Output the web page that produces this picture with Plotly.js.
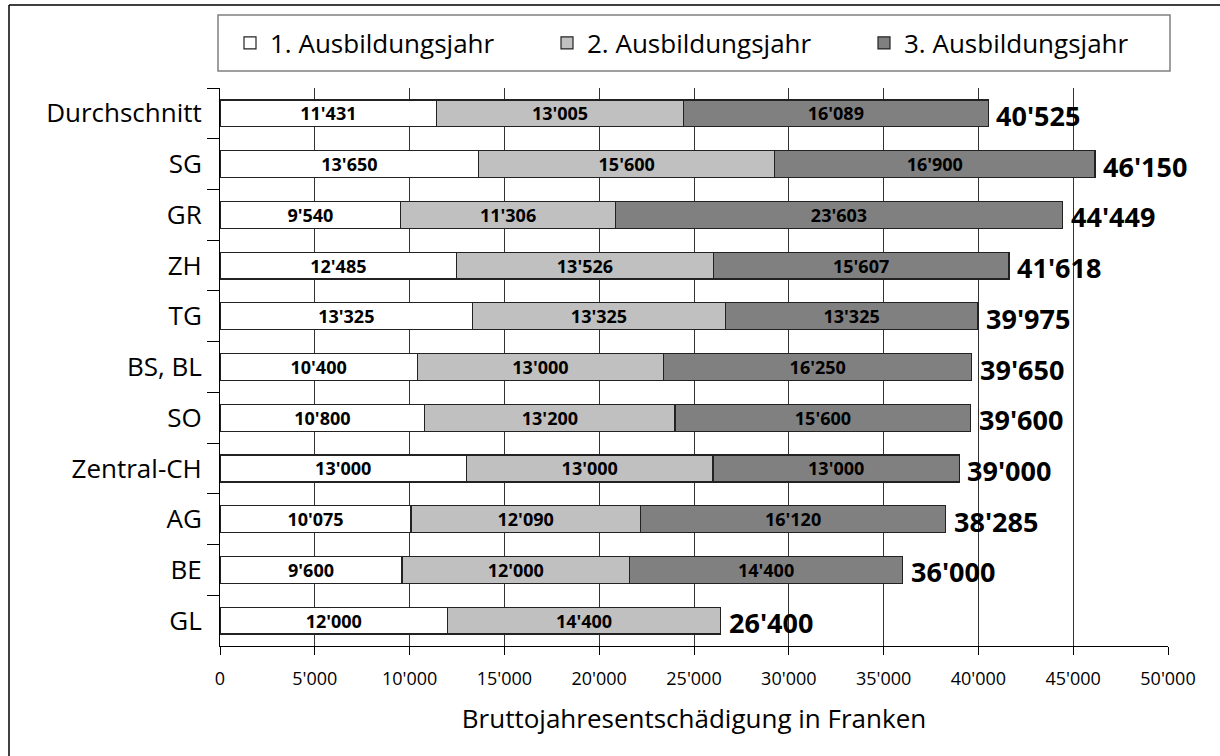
<!DOCTYPE html>
<html>
<head>
<meta charset="utf-8">
<script src="https://cdn.plot.ly/plotly-3.0.1.min.js"></script>
<style>
  html, body { margin: 0; padding: 0; background: #fff; }
  #chart { width: 1220px; height: 756px; }
</style>
</head>
<body>
<div id="chart"></div>
<script>
// ---- data ----
const categories = ['Durchschnitt', 'SG', 'GR', 'ZH', 'TG', 'BS, BL', 'SO', 'Zentral-CH', 'AG', 'BE', 'GL'];
const seriesNames = ['1. Ausbildungsjahr', '2. Ausbildungsjahr', '3. Ausbildungsjahr'];
const year1 = [11431, 13650, 9540, 12485, 13325, 10400, 10800, 13000, 10075, 9600, 12000];
const year2 = [13005, 15600, 11306, 13526, 13325, 13000, 13200, 13000, 12090, 12000, 14400];
const year3 = [16089, 16900, 23603, 15607, 13325, 16250, 15600, 13000, 16120, 14400, null];
const xTickValues = [0, 5000, 10000, 15000, 20000, 25000, 30000, 35000, 40000, 45000, 50000];

// ---- derived ----
const totals = categories.map((c, i) => (year1[i] || 0) + (year2[i] || 0) + (year3[i] || 0));
const fmt = n => String(n).replace(/\B(?=(\d{3})+(?!\d))/g, "'");

const colors = ['#ffffff', '#c0c0c0', '#808080'];
const FONT = 'Open Sans, Noto Sans, sans-serif';

const seriesValues = [year1, year2, year3];
const traces = seriesValues.map((vals, k) => ({
  type: 'bar',
  orientation: 'h',
  name: seriesNames[k],
  x: vals,
  y: categories,
  marker: { color: colors[k], line: { color: '#222222', width: 1.2 } },
  texttemplate: '%{x:,}',
  textposition: 'inside',
  insidetextanchor: 'middle',
  constraintext: 'none',
  textangle: 0,
  textfont: { family: FONT, size: 18, weight: 700, color: '#000000' },
  hoverinfo: 'x+y+name'
}));

// total labels at the end of each stacked bar
const totalAnnotations = categories.map((c, i) => ({
  x: totals[i],
  y: c,
  xref: 'x',
  yref: 'y',
  text: fmt(totals[i]),
  showarrow: false,
  xanchor: 'left',
  yanchor: 'middle',
  xshift: 6,
  yshift: -2,
  font: { family: FONT, size: 27, weight: 700, color: '#000000' }
}));

// pixel helpers for frame/legend box (plot area: l=220, t=88, w=948, h=558)
const L = 220, T = 88, W = 948, H = 558;
const px = x => (x - L) / W;
const py = y => 1 - (y - T) / H;

const layout = {
  width: 1220,
  height: 756,
  margin: { l: L, r: 1220 - L - W, t: T, b: 756 - T - H },
  paper_bgcolor: '#ffffff',
  plot_bgcolor: '#ffffff',
  separators: ".'",
  font: { family: FONT, color: '#000000', size: 18 },
  barmode: 'stack',
  bargap: 0.47,
  showlegend: true,
  legend: {
    orientation: 'h',
    x: px(230), xanchor: 'left',
    y: py(43), yanchor: 'middle',
    font: { family: FONT, size: 26, color: '#000000' },
    bgcolor: 'rgba(0,0,0,0)',
    borderwidth: 0,
    entrywidth: 272,
    entrywidthmode: 'pixels',
    traceorder: 'normal'
  },
  xaxis: {
    range: [0, 50000],
    tickvals: xTickValues,
    tickformat: ',d',
    ticks: 'outside',
    ticklen: 8,
    tickcolor: '#000000',
    tickfont: { family: FONT, size: 18, color: '#000000' },
    ticklabelstandoff: 8,
    showgrid: true,
    gridcolor: '#333333',
    gridwidth: 1,
    zeroline: false,
    showline: true,
    linecolor: '#000000',
    linewidth: 1,
    title: { text: 'Bruttojahresentschädigung in Franken', font: { family: FONT, size: 26, color: '#000000' }, standoff: 21 },
    fixedrange: true
  },
  yaxis: {
    type: 'category',
    categoryorder: 'array',
    categoryarray: categories,
    autorange: 'reversed',
    tickson: 'boundaries',
    ticks: 'outside',
    ticklen: 12,
    tickcolor: '#000000',
    tickfont: { family: FONT, size: 26, color: '#000000' },
    ticklabelstandoff: 12,
    showgrid: false,
    zeroline: false,
    showline: true,
    linecolor: '#000000',
    linewidth: 1,
    fixedrange: true
  },
  annotations: totalAnnotations,
  shapes: [
    // outer frame (top and left edges)
    { type: 'line', xref: 'paper', yref: 'paper', x0: px(9), x1: px(1222), y0: py(5), y1: py(5), line: { color: '#000000', width: 1.5 } },
    { type: 'line', xref: 'paper', yref: 'paper', x0: px(9), x1: px(9), y0: py(5), y1: py(758), line: { color: '#000000', width: 1.5 } },
    // legend box
    { type: 'rect', xref: 'paper', yref: 'paper', x0: px(218), x1: px(1170), y0: py(15), y1: py(71), line: { color: '#808080', width: 1.5 }, fillcolor: 'rgba(0,0,0,0)' }
  ]
};

Plotly.newPlot('chart', traces, layout, { displayModeBar: false, staticPlot: true });
</script>
</body>
</html>
